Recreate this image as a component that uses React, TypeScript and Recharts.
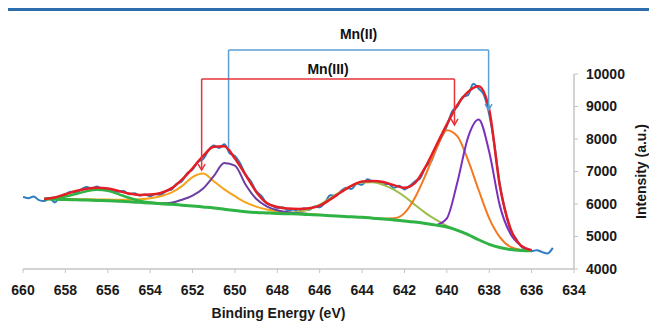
import { LineChart, Line, XAxis, YAxis, ReferenceLine, Label } from 'recharts'

// binding energy grid of the fitted curves (eV)
const fitEnergy = [
  659, 658.5, 658, 657.5, 657, 656.5, 656, 655.5, 655, 654.5, 654, 653.5, 653, 652.5, 652, 651.5,
  651, 650.5, 650, 649.5, 649, 648.5, 648, 647.5, 647, 646.5, 646, 645.5, 645, 644.5, 644, 643.5,
  643, 642.5, 642, 641.5, 641, 640.5, 640, 639.5, 639, 638.5, 638, 637.5, 637, 636.5, 636,
]

const background = [
  6150, 6145, 6140, 6130, 6120, 6110, 6100, 6085, 6070, 6050, 6030, 6010, 5990, 5965, 5940, 5910,
  5880, 5840, 5800, 5765, 5740, 5725, 5710, 5700, 5690, 5675, 5660, 5640, 5620, 5605, 5590, 5565,
  5540, 5510, 5480, 5445, 5400, 5350, 5290, 5190, 5060, 4900, 4760, 4660, 4600, 4570, 4560,
]

const satellite = [
  6160, 6182, 6232, 6310, 6395, 6438, 6405, 6305, 6194, 6104, 6048, 6015, 5992, null, null, null,
  null, null, null, null, null, null, null, null, null, null, null, null, null, null, null, null,
  null, null, null, null, null, null, null, null, null, null, null, null, null, null, null,
]

const mn3High = [
  6160, 6158, 6155, 6150, 6145, 6140, 6135, 6130, 6130, 6145, 6180, 6240, 6350, 6550, 6830, 6940,
  6700, 6450, 6240, 6050, 5920, 5830, 5775, 5740, 5715, 5690, 5668, null, null, null, null, null,
  null, null, null, null, null, null, null, null, null, null, null, null, null, null, null,
]

const mn2High = [
  null, null, null, null, null, null, null, null, null, null, 6035, 6015, 6040, 6130, 6260, 6480,
  6860, 7260, 7180, 6600, 6160, 5930, 5810, 5750, 5715, 5690, null, null, null, null, null, null,
  null, null, null, null, null, null, null, null, null, null, null, null, null, null, null,
]

const shakeUp = [
  null, null, null, null, null, null, null, null, null, null, null, null, null, null, null, null,
  null, null, null, null, null, 5730, 5715, 5725, 5760, 5840, 5980, 6180, 6380, 6560, 6665, 6670,
  6590, 6440, 6230, 5970, 5720, 5510, 5330, 5190, 5070, null, null, null, null, null, null,
]

const mn3Low = [
  null, null, null, null, null, null, null, null, null, null, null, null, null, null, null, null,
  null, null, null, null, null, null, null, null, null, null, null, null, null, null, 5595, 5570,
  5550, 5560, 5720, 6200, 6900, 7700, 8270, 8080, 7350, 6430, 5560, 4980, 4680, 4590, 4565,
]

const mn2Low = [
  null, null, null, null, null, null, null, null, null, null, null, null, null, null, null, null,
  null, null, null, null, null, null, null, null, null, null, null, null, null, null, null, null,
  null, null, null, null, null, 5350, 5560, 6680, 8050, 8600, 7600, 5950, 5080, 4720, 4580,
]

const envelope = [
  6154, 6200, 6300, 6400, 6470, 6500, 6480, 6400, 6320, 6280, 6290, 6340, 6480, 6750, 7100, 7480,
  7760, 7780, 7400, 6900, 6380, 6030, 5910, 5860, 5846, 5870, 5950, 6140, 6360, 6560, 6690, 6710,
  6677, 6580, 6500, 6650, 7150, 7800, 8450, 9050, 9450, 9620, 8900, 6560, 5250, 4720, 4580,
]

// measured spectrum, 660 -> 635 eV every 0.25 eV
const measured = [
  6215, 6180, 6230, 6120, 6090, 6180, 6050, 6230, 6300, 6380, 6330, 6450, 6520, 6480, 6540, 6450,
  6470, 6420, 6380, 6400, 6300, 6330, 6260, 6290, 6240, 6310, 6280, 6400, 6440, 6620, 6700, 6950,
  7060, 7300, 7380, 7650, 7800, 7720, 7840, 7560, 7480, 7250, 6900, 6700, 6400, 6250, 6020, 5950,
  5880, 5900, 5800, 5830, 5760, 5870, 5820, 5920, 5900, 6050, 6270, 6250, 6400, 6500, 6460, 6620,
  6590, 6760, 6700, 6690, 6600, 6620, 6500, 6560, 6450, 6560, 6700, 6800, 7150, 7300, 7700, 8050,
  8400, 8850, 9000, 9300, 9350, 9700, 9550, 9350, 8750, 7800, 6600, 5800, 5200, 4950, 4700, 4600,
  4550, 4580, 4520, 4480, 4650,
]

const xTicks = [634, 636, 638, 640, 642, 644, 646, 648, 650, 652, 654, 656, 658, 660]
const yTicks = [4000, 5000, 6000, 7000, 8000, 9000, 10000]

const fitData = fitEnergy.map((e, i) => ({
  e,
  bg: background[i],
  sat: satellite[i],
  m3h: mn3High[i],
  m2h: mn2High[i],
  su: shakeUp[i],
  m3l: mn3Low[i],
  m2l: mn2Low[i],
  fit: envelope[i],
}))

const rawData = measured.map((v, i) => ({ e: 660 - i * 0.25, v }))

const tickStyle = { fill: '#1a1a1a', fontSize: 14, fontWeight: 'bold' }

// vertical bracket leg with an open arrow head at its lower end
function ArrowLeg(props: any) {
  const { x1, y1, x2, y2, stroke } = props
  return (
    <g>
      <line x1={x1} y1={y1} x2={x2} y2={y2} stroke={stroke} strokeWidth={1.5} />
      <polyline
        points={`${x2 - 3.5},${y2 - 6} ${x2},${y2} ${x2 + 3.5},${y2 - 6}`}
        fill="none"
        stroke={stroke}
        strokeWidth={1.5}
      />
    </g>
  )
}

export default function App() {
  return (
    <div style={{ position: 'absolute', left: 0, top: 0, width: 649, height: 322, background: '#fff' }}>
      <div style={{ position: 'absolute', left: 8, top: 8, width: 641, height: 2.5, background: '#2c6ead' }} />
      <LineChart
        width={649}
        height={322}
        margin={{ top: 74, right: 0, left: 23, bottom: 23 }}
        style={{ fontFamily: '"Liberation Sans", Arial, sans-serif' }}
      >
        <XAxis
          type="number"
          dataKey="e"
          domain={[634, 660]}
          reversed
          ticks={xTicks}
          allowDataOverflow
          height={30}
          tick={tickStyle}
          tickSize={4}
          tickMargin={12}
          axisLine={{ stroke: '#c4c4c4', strokeWidth: 1.5 }}
          tickLine={{ stroke: '#c4c4c4' }}
        >
          <Label value="Binding Energy (eV)" position="bottom" offset={9} dx={-20}
            fill="#1a1a1a" fontSize={14} fontWeight="bold" />
        </XAxis>
        <YAxis
          orientation="right"
          type="number"
          domain={[4000, 10000]}
          ticks={yTicks}
          allowDataOverflow
          width={75}
          tick={tickStyle}
          tickSize={4}
          tickMargin={8}
          axisLine={{ stroke: '#c4c4c4', strokeWidth: 1.5 }}
          tickLine={{ stroke: '#c4c4c4' }}
        >
          <Label value="Intensity (a.u.)" angle={-90} position="center" dx={30}
            fill="#1a1a1a" fontSize={14} fontWeight="bold" />
        </YAxis>

        <Line data={rawData} dataKey="v" type="monotone" stroke="#2e7bc4" strokeWidth={2}
          dot={false} activeDot={false} isAnimationActive={false} />
        <Line data={fitData} dataKey="su" type="monotone" stroke="#9cbd4a" strokeWidth={2}
          dot={false} activeDot={false} isAnimationActive={false} />
        <Line data={fitData} dataKey="m3h" type="monotone" stroke="#f7a21b" strokeWidth={2}
          dot={false} activeDot={false} isAnimationActive={false} />
        <Line data={fitData} dataKey="m3l" type="monotone" stroke="#f47920" strokeWidth={2}
          dot={false} activeDot={false} isAnimationActive={false} />
        <Line data={fitData} dataKey="m2h" type="monotone" stroke="#6b3fa0" strokeWidth={2}
          dot={false} activeDot={false} isAnimationActive={false} />
        <Line data={fitData} dataKey="m2l" type="monotone" stroke="#7b2fbe" strokeWidth={2}
          dot={false} activeDot={false} isAnimationActive={false} />
        <Line data={fitData} dataKey="sat" type="monotone" stroke="#2fb344" strokeWidth={2.5}
          dot={false} activeDot={false} isAnimationActive={false} />
        <Line data={fitData} dataKey="bg" type="monotone" stroke="#2fb344" strokeWidth={3}
          dot={false} activeDot={false} isAnimationActive={false} />
        <Line data={fitData} dataKey="fit" type="monotone" stroke="#e31e24" strokeWidth={2.5}
          dot={false} activeDot={false} isAnimationActive={false} />

        {/* Mn(II) bracket */}
        <ReferenceLine segment={[{ x: 650.3, y: 10738 }, { x: 638.03, y: 10738 }]}
          stroke="#5a9fd6" strokeWidth={1.5} ifOverflow="visible">
          <Label value="Mn(II)" position="top" offset={11} fill="#111" fontSize={14} fontWeight="bold" />
        </ReferenceLine>
        <ReferenceLine segment={[{ x: 650.3, y: 10738 }, { x: 650.3, y: 7723 }]}
          stroke="#5a9fd6" strokeWidth={1.5} ifOverflow="visible" />
        <ReferenceLine segment={[{ x: 638.03, y: 10738 }, { x: 638.03, y: 8892 }]}
          stroke="#5a9fd6" ifOverflow="visible" shape={ArrowLeg} />

        {/* Mn(III) bracket */}
        <ReferenceLine segment={[{ x: 651.57, y: 9846 }, { x: 639.64, y: 9846 }]}
          stroke="#e5343a" strokeWidth={1.5} ifOverflow="visible">
          <Label value="Mn(III)" position="top" offset={5} fill="#111" fontSize={14} fontWeight="bold" />
        </ReferenceLine>
        <ReferenceLine segment={[{ x: 651.57, y: 9846 }, { x: 651.57, y: 7046 }]}
          stroke="#e5343a" ifOverflow="visible" shape={ArrowLeg} />
        <ReferenceLine segment={[{ x: 639.64, y: 9846 }, { x: 639.64, y: 8431 }]}
          stroke="#e5343a" ifOverflow="visible" shape={ArrowLeg} />
      </LineChart>
    </div>
  )
}
